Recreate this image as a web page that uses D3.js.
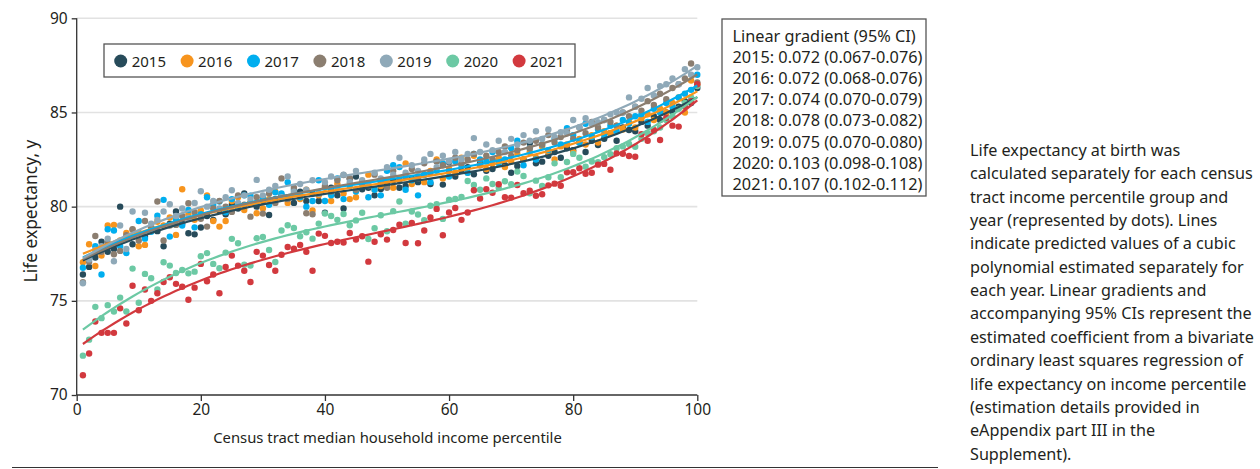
<!DOCTYPE html>
<html>
<head>
<meta charset="utf-8">
<script src="https://cdn.jsdelivr.net/npm/d3@7"></script>
<style>
body { margin: 0; background: #fff; }
svg text { font-family: "Noto Sans", sans-serif; fill: #231f20; }
</style>
</head>
<body>
<svg id="chart" width="1260" height="469"></svg>
<script>
// census tract income percentile groups
const percentiles = [1,2,3,4,5,6,7,8,9,10,11,12,13,14,15,16,17,18,19,20,
  21,22,23,24,25,26,27,28,29,30,31,32,33,34,35,36,37,38,39,40,
  41,42,43,44,45,46,47,48,49,50,51,52,53,54,55,56,57,58,59,60,
  61,62,63,64,65,66,67,68,69,70,71,72,73,74,75,76,77,78,79,80,
  81,82,83,84,85,86,87,88,89,90,91,92,93,94,95,96,97,98,99,100];

const years = ["2015", "2016", "2017", "2018", "2019", "2020", "2021"];
const colors = ["#274b5a", "#f7941d", "#00aeef", "#8b7e70", "#8fa9b8", "#6cc9a4", "#d2393e"];

const le2015 = [76.4,76.8,77.3,78.14,77.6,77.75,80.0,78.3,78.0,78.6,
  78.4,78.9,78.7,77.9,79.1,79.74,79.1,78.59,78.53,78.89,
  79.5,79.3,79.8,79.6,80.1,79.9,80.7,80.2,80.0,80.3,
  79.56,80.4,80.6,80.5,80.2,80.8,80.3,80.7,80.3,79.68,
  81.0,80.6,79.9,81.49,81.6,80.92,81.0,80.6,80.94,81.2,
  81.4,81.0,81.1,81.5,81.3,81.7,81.2,82.43,81.17,82.36,
  81.6,81.9,82.1,81.72,82.3,81.9,82.0,82.48,82.2,81.8,
  82.16,82.5,83.36,82.3,82.39,82.7,82.9,82.6,83.1,83.0,
  83.4,82.9,83.5,83.27,83.6,83.9,83.5,84.2,84.07,84.0,
  84.5,84.3,84.8,84.6,85.0,85.04,85.3,85.6,85.5,86.3];

const le2016 = [77.05,78.0,76.85,77.4,79.0,79.03,78.2,78.6,78.77,77.9,
  77.97,78.9,79.2,79.0,79.42,78.5,80.92,79.6,79.3,79.8,
  80.6,79.24,78.94,79.24,80.3,80.5,79.82,80.2,79.65,79.9,
  80.4,80.8,80.5,80.2,80.7,80.4,80.9,79.8,80.6,81.0,
  80.3,81.2,80.7,80.4,80.5,81.3,81.7,80.9,81.1,81.4,
  81.0,81.5,82.3,81.2,81.6,81.3,81.9,82.5,81.5,82.0,
  81.8,82.6,81.8,82.7,82.2,82.0,82.3,82.6,82.1,82.4,
  82.8,82.5,82.9,82.6,83.2,82.9,82.5,83.2,83.3,82.9,
  83.6,83.3,83.8,83.4,84.0,83.9,84.3,84.1,84.5,84.2,
  84.7,84.9,84.6,85.2,85.0,85.5,85.8,85.0,86.7,86.5];

const le2017 = [76.76,77.3,77.9,76.4,78.8,78.73,77.9,77.53,78.4,79.24,
  78.3,78.67,79.52,80.36,78.41,79.3,79.0,79.82,78.9,79.6,
  80.5,80.1,80.27,79.7,80.4,80.0,80.6,80.58,80.2,80.5,
  80.1,80.76,80.7,81.3,80.9,80.5,80.0,80.3,81.4,80.3,
  80.6,81.5,80.4,81.1,80.8,81.2,80.5,80.9,80.6,81.9,
  82.2,82.1,80.9,81.4,80.6,81.7,81.3,81.9,82.3,81.6,
  82.4,82.2,81.8,82.8,82.5,82.4,82.9,82.3,82.5,83.1,
  83.5,82.2,83.1,82.5,83.3,83.0,83.6,83.3,84.16,83.8,
  83.4,84.4,83.7,84.1,83.8,84.3,84.0,84.6,84.4,84.8,
  84.9,84.5,85.2,85.0,85.5,85.3,85.8,86.0,86.2,87.0];

const le2018 = [75.99,77.08,78.44,77.6,78.06,77.47,77.65,78.48,78.8,78.2,
  79.24,78.9,80.27,78.2,79.0,79.03,79.5,80.18,79.7,79.36,
  78.94,79.9,80.3,80.0,79.72,80.6,80.1,79.47,80.5,79.63,
  80.7,80.2,81.5,80.4,81.0,80.6,79.65,79.6,80.7,81.1,
  80.8,81.4,81.68,81.5,80.9,81.3,81.1,81.7,81.3,81.0,
  81.9,81.4,81.6,82.0,81.5,82.3,81.8,82.4,82.2,81.9,
  82.6,82.3,82.5,82.8,82.2,82.7,82.5,82.9,83.2,82.7,
  83.0,83.4,83.1,83.5,83.3,83.8,83.4,83.7,84.0,83.6,
  84.2,83.9,84.5,84.2,84.6,84.5,84.3,85.0,84.8,85.3,
  85.1,85.6,85.4,86.0,85.7,86.3,86.5,86.8,87.6,86.6];

const le2019 = [75.93,77.2,77.7,77.9,78.3,77.1,79.0,77.75,79.74,78.6,
  79.68,79.1,79.3,79.74,80.13,79.5,79.9,79.4,80.2,80.82,
  80.0,80.3,79.9,80.5,80.87,80.2,80.6,80.4,81.42,80.6,
  80.9,81.1,80.5,81.6,80.8,81.2,80.9,81.4,80.7,81.3,
  81.6,81.0,81.7,81.3,81.9,81.4,81.2,81.8,81.5,82.1,
  81.7,82.6,81.8,82.2,81.9,82.5,82.8,82.1,82.7,82.4,
  82.9,82.5,82.8,83.64,82.9,83.3,83.0,83.5,82.9,83.6,
  83.3,83.8,83.5,84.0,83.6,84.1,83.7,83.95,83.9,84.6,
  84.2,84.7,84.4,84.48,84.6,84.9,85.0,85.0,85.8,85.3,
  85.73,86.3,85.9,86.4,86.5,86.8,86.5,87.3,87.0,87.4];

const le2020 = [72.09,72.94,74.68,74.08,74.77,74.43,75.17,74.43,76.71,74.9,
  76.43,76.2,75.6,77.05,76.87,76.48,76.64,76.46,76.55,77.37,
  77.53,76.96,76.73,77.56,78.29,78.06,76.92,76.87,78.32,78.39,
  77.7,77.06,78.73,79.01,78.87,78.43,78.64,78.3,79.1,79.64,
  79.5,79.3,79.61,79.01,79.27,79.68,78.28,78.85,79.54,78.69,
  79.76,80.27,79.1,79.74,79.58,79.28,80.05,80.13,79.35,80.37,
  80.41,80.51,81.36,81.15,80.9,81.5,81.2,81.0,81.35,81.19,
  81.86,81.63,80.71,81.38,81.1,81.56,82.3,81.56,82.37,82.8,
  82.6,82.12,82.4,82.36,82.62,82.78,83.1,83.2,83.33,83.18,
  83.6,83.9,84.0,84.2,84.6,84.8,85.2,85.5,85.8,86.4];

const le2021 = [71.05,72.2,73.9,73.3,73.3,73.3,74.6,73.8,75.8,74.5,
  75.6,75.0,75.4,76.0,76.25,75.9,75.75,75.06,75.7,76.96,
  76.04,76.4,75.4,76.8,77.4,76.87,76.6,76.0,77.6,77.4,
  76.9,76.6,77.45,77.86,77.77,77.97,77.6,76.6,78.57,78.45,
  78.07,78.14,78.09,78.6,78.25,78.43,77.08,78.14,78.53,78.25,
  78.76,79.04,78.07,79.13,78.06,78.73,79.42,79.88,78.48,79.69,
  79.93,79.3,79.69,80.87,80.43,80.92,80.74,81.19,80.5,80.48,
  81.15,80.71,80.85,80.58,80.66,81.13,81.22,81.11,81.83,81.83,
  82.04,81.75,81.8,82.23,82.27,81.96,82.83,82.81,82.69,82.65,
  83.84,83.5,84.07,83.54,84.72,84.3,84.25,85.3,85.6,86.5];

const seriesValues = [le2015, le2016, le2017, le2018, le2019, le2020, le2021];

const xTicks = [0, 20, 40, 60, 80, 100];
const yTicks = [70, 75, 80, 85, 90];

const gradientLines = [
  "Linear gradient (95% CI)",
  "2015: 0.072 (0.067-0.076)",
  "2016: 0.072 (0.068-0.076)",
  "2017: 0.074 (0.070-0.079)",
  "2018: 0.078 (0.073-0.082)",
  "2019: 0.075 (0.070-0.080)",
  "2020: 0.103 (0.098-0.108)",
  "2021: 0.107 (0.102-0.112)"
];

const noteLines = [
  "Life expectancy at birth was",
  "calculated separately for each census",
  "tract income percentile group and",
  "year (represented by dots). Lines",
  "indicate predicted values of a cubic",
  "polynomial estimated separately for",
  "each year. Linear gradients and",
  "accompanying 95% CIs represent the",
  "estimated coefficient from a bivariate",
  "ordinary least squares regression of",
  "life expectancy on income percentile",
  "(estimation details provided in",
  "eAppendix part III in the",
  "Supplement)."
];

// cubic polynomial by least squares (normal equations)
function cubicFit(xs, ys) {
  let A = [[0,0,0,0],[0,0,0,0],[0,0,0,0],[0,0,0,0]];
  let b = [0,0,0,0];
  xs.forEach((x, i) => {
    let u = x / 100;
    let p = [1, u, u * u, u * u * u];
    for (let j = 0; j < 4; j++) {
      b[j] += p[j] * ys[i];
      for (let k = 0; k < 4; k++) A[j][k] += p[j] * p[k];
    }
  });
  for (let c = 0; c < 4; c++) {
    let piv = c;
    for (let r = c + 1; r < 4; r++) if (Math.abs(A[r][c]) > Math.abs(A[piv][c])) piv = r;
    [A[c], A[piv]] = [A[piv], A[c]];
    [b[c], b[piv]] = [b[piv], b[c]];
    for (let r = c + 1; r < 4; r++) {
      let f = A[r][c] / A[c][c];
      for (let k = c; k < 4; k++) A[r][k] -= f * A[c][k];
      b[r] -= f * b[c];
    }
  }
  let coef = [0,0,0,0];
  for (let r = 3; r >= 0; r--) {
    let s = b[r];
    for (let k = r + 1; k < 4; k++) s -= A[r][k] * coef[k];
    coef[r] = s / A[r][r];
  }
  return x => { let u = x / 100; return coef[0] + coef[1] * u + coef[2] * u * u + coef[3] * u * u * u; };
}

// fit a text selection to a target pixel width by changing font size
function fitFont(sel, target, base) {
  let w = d3.max(sel.nodes(), n => n.getComputedTextLength());
  sel.style("font-size", (base * target / w).toFixed(2) + "px");
}

let svg = d3.select("#chart");
svg.append("rect").attr("width", 1260).attr("height", 469).attr("fill", "#fff");

let x = d3.scaleLinear().domain([0, 100]).range([76.7, 697.3]);
let y = d3.scaleLinear().domain([70, 90]).range([395, 18.3]);

// gridlines
svg.append("g").selectAll("line")
  .data(yTicks.filter(t => t > 70))
  .enter().append("line")
  .attr("x1", x(0)).attr("x2", x(100))
  .attr("y1", d => y(d)).attr("y2", d => y(d))
  .attr("stroke", "#e2e2e2").attr("stroke-width", 1.6);

// axes
let yAxis = svg.append("g").attr("transform", "translate(" + x(0) + ",0)")
  .call(d3.axisLeft(y).tickValues(yTicks).tickSize(5).tickPadding(4));
let xAxis = svg.append("g").attr("transform", "translate(0," + y(70) + ")")
  .call(d3.axisBottom(x).tickValues(xTicks).tickSize(6).tickPadding(3));
[yAxis, xAxis].forEach(a => {
  a.select(".domain").attr("stroke", "#333").attr("stroke-width", 1.3);
  a.selectAll(".tick line").attr("stroke", "#333").attr("stroke-width", 1.3);
  a.selectAll(".tick text").style("font-size", "15.5px").style("font-family", "Noto Sans").attr("fill", "#231f20");
});
yAxis.select(".domain").attr("d", "M0," + y(90) + "V" + y(70));
xAxis.select(".domain").attr("d", "M" + x(0) + ",0H" + x(100));

// dots
seriesValues.forEach((vals, si) => {
  svg.append("g").selectAll("circle")
    .data(vals)
    .enter().append("circle")
    .attr("cx", (d, i) => x(percentiles[i]))
    .attr("cy", d => y(d))
    .attr("r", 3.2)
    .attr("fill", colors[si]);
});

// cubic fit lines
let line = d3.line().x(d => x(d[0])).y(d => y(d[1]));
seriesValues.forEach((vals, si) => {
  let f = cubicFit(percentiles, vals);
  svg.append("path")
    .datum(percentiles.map(p => [p, f(p)]))
    .attr("d", line)
    .attr("fill", "none")
    .attr("stroke", colors[si])
    .attr("stroke-width", 2.2);
});

// axis titles
let xTitle = svg.append("text")
  .attr("x", (x(0) + x(100)) / 2 + 0.5).attr("y", 443)
  .attr("text-anchor", "middle")
  .style("font-size", "15px")
  .text("Census tract median household income percentile");
fitFont(xTitle, 349, 15);

let yTitle = svg.append("text")
  .attr("transform", "translate(37,211) rotate(-90)")
  .attr("text-anchor", "middle")
  .style("font-size", "15px")
  .text("Life expectancy, y");
fitFont(yTitle, 143, 15);

// legend
let legend = svg.append("g");
legend.append("rect")
  .attr("x", 104).attr("y", 44).attr("width", 471).attr("height", 33)
  .attr("fill", "#fff").attr("stroke", "#555").attr("stroke-width", 1.3);
let items = legend.selectAll("g.item")
  .data(years)
  .enter().append("g").attr("class", "item")
  .attr("transform", (d, i) => "translate(" + (120.7 + i * 66.4) + ",61)");
items.append("circle").attr("r", 6.5).attr("fill", (d, i) => colors[i]);
items.append("text").attr("x", 11).attr("y", 5.5)
  .style("font-size", "15px").text(d => d);

// gradient box
let gbox = svg.append("g");
gbox.append("rect")
  .attr("x", 722).attr("y", 19).attr("width", 204).attr("height", 177)
  .attr("fill", "#fff").attr("stroke", "#555").attr("stroke-width", 1.3);
let gtext = gbox.selectAll("text")
  .data(gradientLines)
  .enter().append("text")
  .attr("x", 732.5)
  .attr("y", (d, i) => 42 + i * 21.1)
  .style("font-size", "15px")
  .text(d => d);
fitFont(gtext.filter((d, i) => i > 0), 190, 15);
gtext.style("font-size", gtext.filter((d, i) => i === 1).style("font-size"));

// note text
let note = svg.append("g").selectAll("text")
  .data(noteLines)
  .enter().append("text")
  .attr("x", 970)
  .attr("y", (d, i) => 156 + i * 23.35)
  .style("font-size", "16px")
  .text(d => d);
fitFont(note.filter((d, i) => i === 1), 283, 16);
note.style("font-size", note.filter((d, i) => i === 1).style("font-size"));

// rule at the bottom
svg.append("line")
  .attr("x1", 12).attr("x2", 938).attr("y1", 467.5).attr("y2", 467.5)
  .attr("stroke", "#333").attr("stroke-width", 1.2);
</script>
</body>
</html>
